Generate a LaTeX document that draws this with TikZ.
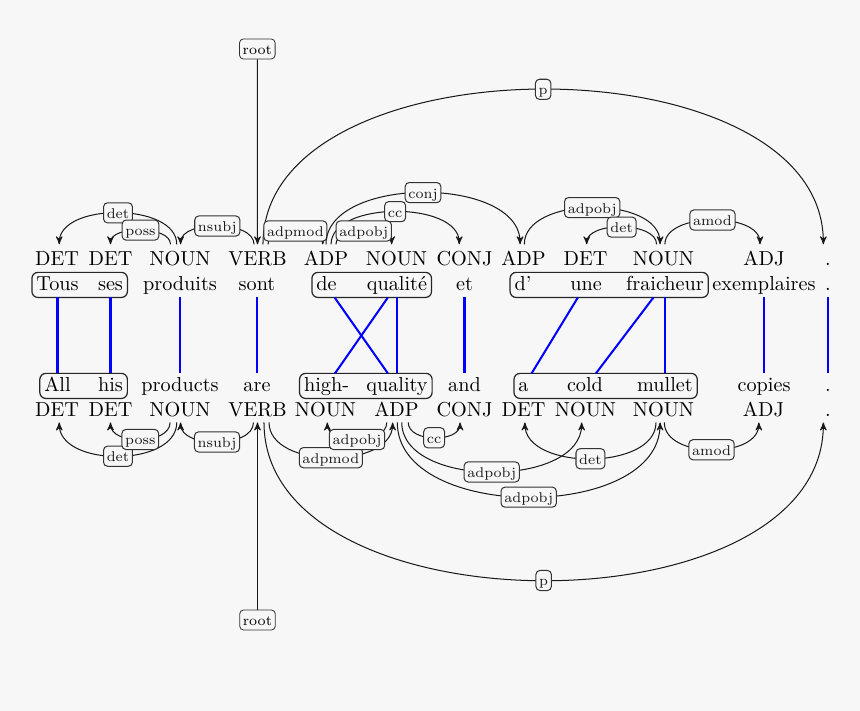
\documentclass[tikz,border=0pt]{standalone}
\usepackage{fontspec}
\usepackage{xcolor}
\usepackage{tikz}
\usetikzlibrary{arrows,fit}

\definecolor{paper}{RGB}{247,247,247}

\begin{document}
\begin{tikzpicture}[->,>=stealth',x=0.494pt,y=-0.494pt,
  tag/.style={anchor=base,inner sep=2.5pt,text height=8pt,text depth=0pt},
  word/.style={anchor=base,inner sep=2pt,text height=7pt,text depth=1pt},
  grp/.style={draw=black!85,line width=0.6pt,rounded corners=3pt,inner sep=0pt},
  lab/.style={draw=black!80,fill=paper,rounded corners=2pt,font=\scriptsize,inner xsep=1.6pt,inner ysep=1.2pt,text height=1.5ex,text depth=.25ex},
  dep/.style={to path={.. controls +(0,#1) and +(0,#1) .. (\tikztotarget) \tikztonodes}},
  align/.style={-,blue,line width=1pt}]

    \useasboundingbox (0,0) rectangle (860,711);
    \fill[paper,-] (0,0) rectangle (860,711);

    % French tags
	\node [tag] at (57,266) (fp1) {DET};
	\node [tag] at (110.5,266) (fp2) {DET};
	\node [tag] at (180,266) (fp3) {NOUN};
	\node [tag] at (257.5,266) (fp4) {VERB};
	\node [tag] at (326,266) (fp5) {ADP};
	\node [tag] at (396.5,266) (fp6) {NOUN};
	\node [tag] at (464.5,266) (fp7) {CONJ};
	\node [tag] at (523.5,266) (fp8) {ADP};
	\node [tag] at (585.5,266) (fp9) {DET};
	\node [tag] at (663.5,266) (fp10) {NOUN};
	\node [tag] at (764,266) (fp11) {ADJ};
	\node [tag] at (828,266) (fp12) {.};

    % French words
	\node [word] at (57.5,291) (fr1) {Tous};
	\node [word] at (110.5,291) (fr2) {ses};
	\node [word] at (180,291) (fr3) {produits};
	\node [word] at (257,291) (fr4) {sont};
	\node [word] at (326.5,291) (fr5) {de};
	\node [word] at (397,291) (fr6) {qualité};
	\node [word] at (464.5,291) (fr7) {et};
	\node [word] at (523,291) (fr8) {d'};
	\node [word] at (586,291) (fr9) {une};
	\node [word] at (665,291) (fr10) {fraicheur};
	\node [word] at (764,291) (fr11) {exemplaires};
	\node [word] at (828,291) (fr12) {.};

    % English words
	\node [word] at (57.5,392) (en1) {All};
	\node [word] at (110.5,392) (en2) {his};
	\node [word] at (180,392) (en3) {products};
	\node [word] at (257,392) (en4) {are};
	\node [word] at (326.5,392) (en5) {high-};
	\node [word] at (397,392) (en6) {quality};
	\node [word] at (464.5,392) (en7) {and};
	\node [word] at (523.5,392) (en8) {a};
	\node [word] at (585,392) (en9) {cold};
	\node [word] at (665,392) (en10) {mullet};
	\node [word] at (764,392) (en11) {copies};
	\node [word] at (828,392) (en12) {.};

    % English tags
	\node [tag] at (57,417) (ep1) {DET};
	\node [tag] at (110.5,417) (ep2) {DET};
	\node [tag] at (180,417) (ep3) {NOUN};
	\node [tag] at (257.5,417) (ep4) {VERB};
	\node [tag] at (325.5,417) (ep5) {NOUN};
	\node [tag] at (396.5,417) (ep6) {ADP};
	\node [tag] at (464.5,417) (ep7) {CONJ};
	\node [tag] at (523.5,417) (ep8) {DET};
	\node [tag] at (585.5,417) (ep9) {NOUN};
	\node [tag] at (663.5,417) (ep10) {NOUN};
	\node [tag] at (763.5,417) (ep11) {ADJ};
	\node [tag] at (828,417) (ep12) {.};

    % Word groups
	\node [grp, fit=(fr1)(fr2)] (frg1) {};
	\node [grp, fit=(fr5)(fr6)] (frg2) {};
	\node [grp, fit=(fr8)(fr9)(fr10)] (frg3) {};
	\node [grp, fit=(en1)(en2)] (eng1) {};
	\node [grp, fit=(en5)(en6)] (eng2) {};
	\node [grp, fit=(en8)(en9)(en10)] (eng3) {};

	\node [lab] at (257.3,49) (rootA) {root};
	\node [lab] at (257.5,620) (rootB) {root};

	% French arcs
	\path[->,black!90,line width=0.5pt]
	([xshift=-1.6pt]fp3.north) edge[dep=-42] node[lab] {det} ([xshift=1.1pt]fp1.north)
	([xshift=-4.7pt]fp3.north) edge[dep=-19] node[lab] {poss} (fp2.north)
	([xshift=-1.7pt]fp4.north) edge[dep=-24.4] node[lab] {nsubj} ([xshift=0.3pt]fp3.north)
	([xshift=2.7pt]fp4.north) edge[dep=-206.7] node[lab] {p} ([xshift=-2.3pt]fp12.north)
	([xshift=5.2pt]fp4.north) edge[dep=-17.8] node[lab] {adpmod} ([xshift=-1.6pt]fp5.north)
	(fp5.north) edge[dep=-69] node[lab] {conj} ([xshift=-1.7pt]fp8.north)
	([xshift=2.5pt]fp5.north) edge[dep=-43.6] node[lab] {cc} ([xshift=-2.6pt]fp7.north)
	([xshift=4.9pt]fp5.north) edge[dep=-17.8] node[lab] {adpobj} ([xshift=-2.4pt]fp6.north)
	([xshift=0.4pt]fp8.north) edge[dep=-49] node[lab] {adpobj} ([xshift=-1.7pt]fp10.north)
	([xshift=-3.4pt]fp10.north) edge[dep=-23] node[lab] {det} ([xshift=0.6pt]fp9.north)
	([xshift=0.7pt]fp10.north) edge[dep=-32.4] node[lab] {amod} ([xshift=-2pt]fp11.north)
	(rootA) edge (fp4.north)
	;

	% English arcs
	\path[->,black!90,line width=0.5pt]
	([xshift=-1.6pt]ep3.south) edge[dep=45] node[lab] {det} ([xshift=1.1pt]ep1.south)
	([xshift=-4.9pt]ep3.south) edge[dep=22.7] node[lab] {poss} (ep2.south)
	([xshift=-2pt]ep4.south) edge[dep=26] node[lab] {nsubj} ([xshift=0.3pt]ep3.south)
	([xshift=3.2pt]ep4.south) edge[dep=210.7] node[lab] {p} ([xshift=-2.3pt]ep12.south)
	([xshift=5.7pt]ep4.south) edge[dep=47] node[lab] {adpmod} ([xshift=-1.9pt]ep6.south)
	([xshift=-4.8pt]ep6.south) edge[dep=22.7] node[lab] {adpobj} ([xshift=0.9pt]ep5.south)
	([xshift=0.4pt]ep6.south) edge[dep=99.6] node[lab] {adpobj} ([xshift=-1.7pt]ep10.south)
	([xshift=2.6pt]ep6.south) edge[dep=66] node[lab] {adpobj} ([xshift=-1.9pt]ep9.south)
	([xshift=5.8pt]ep6.south) edge[dep=20.4] node[lab] {cc} ([xshift=-2.2pt]ep7.south)
	([xshift=-3.7pt]ep10.south) edge[dep=48.4] node[lab] {det} ([xshift=0.7pt]ep8.south)
	([xshift=0.4pt]ep10.south) edge[dep=36.4] node[lab] {amod} ([xshift=-2.3pt]ep11.south)
	(rootB) edge (ep4.south)
	;

	% Alignment
	\path[align]
	(fr1.south) edge (en1.north)
	(fr2.south) edge (en2.north)
	(fr3.south) edge (en3.north)
	(fr4.south) edge (en4.north)
	([xshift=4pt]fr5.south) edge ([xshift=-4.5pt]en6.north)
	([xshift=-4.5pt]fr6.south) edge ([xshift=4.2pt]en5.north)
	(fr6.south) edge (en6.north)
	(fr7.south) edge (en7.north)
	([xshift=-4pt]fr9.south) edge ([xshift=4pt]en8.north)
	([xshift=-5.7pt]fr10.south) edge ([xshift=5.4pt]en9.north)
	(fr10.south) edge (en10.north)
	(fr11.south) edge (en11.north)
	(fr12.south) edge (en12.north)
	;

\end{tikzpicture}
\end{document}
